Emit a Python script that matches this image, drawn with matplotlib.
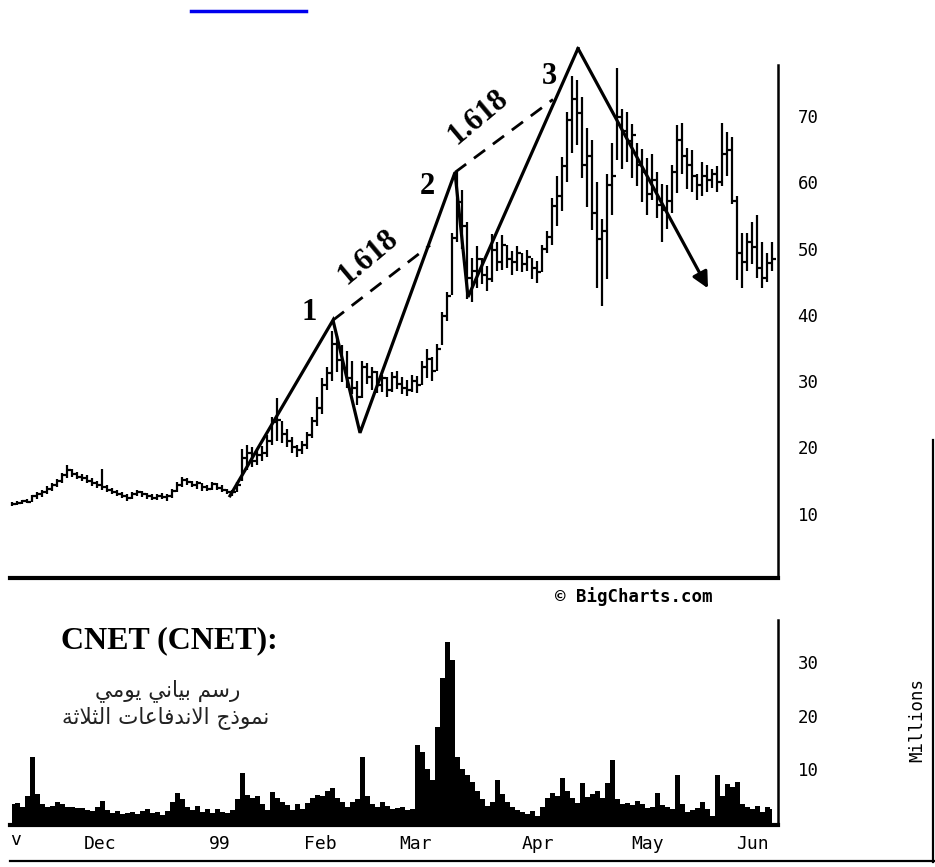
import numpy as np
import matplotlib.pyplot as plt
from matplotlib.lines import Line2D
from matplotlib.transforms import blended_transform_factory

# daily bars, one per trading day (Nov 1998 - Jun 1999)
high = [11.8, 11.9, 12.1, 12.2, 12.8, 13.3, 13.6, 14.2, 14.6, 15.2,
        16.2, 17.3, 16.8, 16.3, 16.0, 15.8, 15.4, 15.0, 16.8, 14.4,
        13.9, 13.6, 13.2, 13.0, 13.2, 13.6, 13.5, 13.1, 12.9, 13.0,
        13.1, 12.9, 13.8, 14.8, 15.6, 15.4, 15.0, 14.9, 14.7, 14.4,
        14.8, 14.6, 14.3, 13.8, 13.6, 14.8, 19.8, 20.4, 20.0, 19.6,
        20.2, 21.8, 24.6, 27.4, 24.0, 22.8, 21.6, 20.4, 21.0, 22.4,
        24.6, 27.6, 30.4, 32.2, 37.6, 36.8, 35.4, 34.6, 33.0, 30.0,
        33.0, 32.8, 32.2, 31.6, 31.0, 30.6, 31.4, 31.6, 30.6, 30.2,
        31.0, 30.8, 33.0, 34.8, 33.6, 35.6, 40.4, 43.4, 52.4, 61.6,
        58.8, 54.0, 48.6, 50.4, 48.6, 47.4, 52.2, 51.0, 52.0, 50.6,
        49.6, 50.4, 49.4, 49.8, 48.6, 48.2, 50.6, 52.6, 57.6, 61.0,
        63.8, 70.6, 76.0, 75.4, 72.8, 68.2, 66.4, 60.0, 54.4, 61.2,
        66.0, 77.2, 71.0, 70.6, 68.8, 66.0, 65.0, 63.6, 64.2, 61.6,
        59.8, 59.6, 62.6, 68.6, 69.0, 65.2, 64.8, 61.2, 63.0, 62.6,
        62.0, 62.4, 69.0, 67.6, 66.8, 58.0, 52.4, 52.4, 54.0, 55.0,
        51.0, 49.4, 51.0]
low = [11.2, 11.3, 11.5, 11.6, 11.8, 12.2, 12.5, 13.0, 13.4, 14.0,
       14.6, 15.4, 15.6, 15.2, 14.9, 14.6, 14.2, 13.9, 13.6, 13.2,
       12.9, 12.6, 12.3, 11.9, 12.2, 12.6, 12.5, 12.2, 12.0, 12.1,
       12.2, 11.9, 12.4, 13.2, 14.0, 14.3, 14.0, 13.8, 13.5, 13.4,
       13.6, 13.6, 13.2, 12.9, 12.6, 13.2, 15.0, 16.6, 17.0, 17.4,
       18.0, 18.6, 20.4, 21.0, 20.6, 20.0, 19.2, 18.5, 19.0, 19.8,
       21.4, 23.2, 25.0, 28.6, 30.0, 31.4, 29.8, 29.0, 28.0, 26.4,
       27.4, 29.6, 28.6, 28.2, 28.4, 27.6, 28.4, 28.8, 28.0, 27.8,
       28.4, 28.2, 29.4, 30.4, 30.0, 31.6, 35.4, 39.0, 43.0, 51.0,
       50.0, 42.4, 42.0, 44.0, 44.6, 43.6, 45.0, 46.6, 46.8, 47.0,
       46.0, 46.6, 46.4, 46.6, 45.4, 44.8, 46.4, 49.4, 50.6, 53.4,
       55.6, 60.0, 64.4, 65.6, 60.6, 56.2, 52.8, 44.0, 41.4, 45.4,
       55.0, 63.4, 62.0, 63.0, 60.6, 59.4, 57.0, 55.0, 57.4, 54.6,
       51.0, 53.0, 55.4, 58.4, 61.2, 59.0, 58.6, 57.4, 58.0, 58.6,
       59.2, 58.6, 59.4, 61.0, 56.8, 45.2, 44.0, 46.6, 47.6, 45.6,
       44.0, 45.0, 46.6]
close = [11.5, 11.6, 11.9, 11.8, 12.6, 12.9, 13.2, 13.8, 14.3, 14.9,
         15.8, 16.6, 16.0, 15.6, 15.4, 15.0, 14.6, 14.4, 14.1, 13.6,
         13.3, 13.0, 12.7, 12.4, 12.9, 13.2, 12.9, 12.6, 12.3, 12.7,
         12.5, 12.6, 13.5, 14.4, 15.1, 14.8, 14.4, 14.6, 14.0, 13.8,
         14.5, 13.9, 13.6, 13.2, 13.2, 14.4, 18.4, 19.2, 18.0, 18.8,
         19.2, 21.0, 23.8, 24.2, 22.0, 21.0, 20.0, 19.6, 20.4, 21.8,
         24.0, 26.0, 29.4, 31.2, 35.6, 33.2, 32.0, 30.4, 29.0, 27.6,
         32.2, 30.6, 31.4, 29.4, 30.4, 28.6, 30.6, 29.6, 29.0, 28.6,
         30.0, 29.4, 32.2, 33.4, 31.6, 34.8, 39.8, 42.8, 51.6, 57.0,
         53.4, 45.6, 46.6, 48.4, 46.0, 45.4, 49.8, 48.0, 50.6, 48.4,
         48.0, 49.4, 47.6, 48.8, 47.0, 46.4, 50.0, 51.8, 56.4, 58.0,
         62.4, 69.4, 72.6, 70.4, 62.6, 64.0, 55.4, 51.4, 52.6, 59.6,
         61.0, 69.8, 67.8, 66.2, 67.2, 62.6, 61.6, 58.2, 60.4, 56.6,
         55.8, 57.2, 61.6, 66.4, 64.0, 62.6, 61.0, 59.6, 61.0, 60.4,
         61.2, 60.0, 64.2, 64.8, 57.2, 49.4, 48.0, 51.0, 50.2, 47.0,
         45.6, 47.8, 48.4]
volume = [3.5, 3.8, 3.0, 5.0, 12.3, 5.5, 3.5, 3.0, 3.2, 4.0,
          3.6, 3.0, 3.0, 2.8, 2.8, 2.5, 2.2, 3.0, 4.2, 2.4,
          1.8, 2.2, 1.6, 1.9, 2.0, 1.6, 2.2, 2.6, 1.8, 2.0,
          1.5, 2.2, 4.0, 5.6, 4.4, 3.0, 2.4, 3.2, 2.0, 2.6,
          1.8, 2.6, 2.0, 1.8, 2.4, 4.4, 9.3, 5.2, 4.6, 5.0,
          3.6, 2.4, 5.8, 4.6, 4.0, 3.4, 2.4, 3.6, 2.6, 3.8,
          4.6, 5.2, 5.0, 6.0, 6.6, 4.6, 4.0, 3.0, 4.0, 4.4,
          12.3, 5.0, 3.6, 3.0, 4.0, 3.2, 2.6, 2.8, 3.0, 2.4,
          2.6, 14.6, 13.2, 10.0, 8.0, 18.0, 27.0, 33.8, 30.5, 12.3,
          10.0, 9.0, 7.6, 6.0, 4.4, 3.2, 4.0, 8.0, 5.4, 4.0,
          3.0, 2.4, 2.0, 1.6, 2.2, 1.4, 3.0, 4.6, 5.6, 5.0,
          8.4, 6.0, 4.6, 3.8, 7.5, 4.8, 5.4, 6.0, 4.6, 7.5,
          11.8, 4.4, 3.6, 3.8, 3.4, 4.2, 3.6, 2.8, 3.0, 5.6,
          3.4, 3.0, 2.6, 9.0, 3.6, 2.0, 2.4, 2.8, 4.0, 2.6,
          1.4, 9.0, 5.0, 7.2, 6.8, 7.6, 3.6, 3.0, 2.6, 3.2,
          2.0, 3.0, 2.6]

# three-drives pattern: turning points (day, price)
wave_days = [43.6, 64.2, 69.6, 88.6, 91.2, 113.2]
wave_prices = [12.7, 39.2, 22.2, 61.5, 42.7, 80.2]
arrow_end = (139.2, 44.0)
dash1 = ([64.2, 83.6], [39.2, 50.5])
dash2 = ([88.6, 108.2], [61.5, 72.5])

price_ticks = [10, 20, 30, 40, 50, 60, 70]
vol_ticks = [10, 20, 30]
month_pos = [17.6, 41.6, 61.6, 80.8, 105.2, 127.2, 148.0]
month_lab = ['Dec', '99', 'Feb', 'Mar', 'Apr', 'May', 'Jun']

title = 'CNET (CNET):'
sub1 = 'رسم بياني يومي'
sub2 = 'نموذج الاندفاعات الثلاثة'

# simple arabic shaping (matplotlib lays text out left to right, unshaped)
FORMS = {
    'ا': ('\ufe8d', '\ufe8e'), 'ب': ('\ufe8f', '\ufe90', '\ufe91', '\ufe92'),
    'ت': ('\ufe95', '\ufe96', '\ufe97', '\ufe98'), 'ة': ('\ufe93', '\ufe94'),
    'ث': ('\ufe99', '\ufe9a', '\ufe9b', '\ufe9c'), 'ج': ('\ufe9d', '\ufe9e', '\ufe9f', '\ufea0'),
    'د': ('\ufea9', '\ufeaa'), 'ذ': ('\ufeab', '\ufeac'), 'ر': ('\ufead', '\ufeae'),
    'س': ('\ufeb1', '\ufeb2', '\ufeb3', '\ufeb4'), 'ع': ('\ufec9', '\ufeca', '\ufecb', '\ufecc'),
    'ف': ('\ufed1', '\ufed2', '\ufed3', '\ufed4'), 'ل': ('\ufedd', '\ufede', '\ufedf', '\ufee0'),
    'م': ('\ufee1', '\ufee2', '\ufee3', '\ufee4'), 'ن': ('\ufee5', '\ufee6', '\ufee7', '\ufee8'),
    'و': ('\ufeed', '\ufeee'), 'ي': ('\ufef1', '\ufef2', '\ufef3', '\ufef4'),
}


def shape(text):
    res = []
    prev = False
    i = 0
    while i < len(text):
        c = text[i]
        if c not in FORMS:
            res.append(c)
            prev = False
            i += 1
            continue
        if c == 'ل' and i + 1 < len(text) and text[i + 1] == 'ا':
            res.append('\ufefc' if prev else '\ufefb')
            prev = False
            i += 2
            continue
        f = FORMS[c]
        nxt = text[i + 1] if i + 1 < len(text) else None
        joins = len(f) == 4 and nxt in FORMS
        if prev and joins:
            g = f[3]
        elif prev:
            g = f[1]
        elif joins:
            g = f[2]
        else:
            g = f[0]
        res.append(g)
        prev = len(f) == 4
        i += 1
    return ''.join(reversed(res))


W, H = 935, 867
fig = plt.figure(figsize=(W / 100, H / 100), dpi=100)
ax_p = fig.add_axes([10 / W, 1 - 578 / H, 768 / W, 513 / H])
ax_v = fig.add_axes([10 / W, 1 - 825 / H, 768 / W, 205 / H])

days = np.arange(len(close))
mono = 'DejaVu Sans Mono'
serif = 'Liberation Serif'

# price bars
ax_p.vlines(days, low, high, color='black', lw=1.6)
ax_p.hlines(close, days, days + 0.8, color='black', lw=1.6)

# pattern lines
ax_p.plot(wave_days, wave_prices, color='black', lw=2.3, clip_on=False,
          solid_joinstyle='miter')
ax_p.annotate('', xy=arrow_end, xytext=(wave_days[-1], wave_prices[-1]),
              arrowprops=dict(arrowstyle='-|>', color='black', lw=2.3,
                              mutation_scale=24, shrinkA=0, shrinkB=0),
              annotation_clip=False)
for d in (dash1, dash2):
    ax_p.plot(d[0], d[1], color='black', lw=2, ls=(0, (5, 3.5)), clip_on=False)

lab_kw = dict(fontfamily=serif, fontweight='bold', fontsize=22, ha='center',
              va='center', clip_on=False)
ax_p.text(59.4, 40.4, '1', **lab_kw)
ax_p.text(83.0, 59.4, '2', **lab_kw)
ax_p.text(107.4, 76.0, '3', **lab_kw)
ax_p.text(71.2, 48.7, '1.618', rotation=40, rotation_mode='anchor', **lab_kw)
ax_p.text(93.2, 69.8, '1.618', rotation=40, rotation_mode='anchor', **lab_kw)

ax_p.set_xlim(-0.4, 153.2)
ax_p.set_ylim(0.3, 77.7)
ax_p.set_yticks(price_ticks)
ax_p.set_xticks([])

# volume
ax_v.fill_between(days, volume, step='mid', color='black', lw=0)
ax_v.set_xlim(-0.4, 153.2)
ax_v.set_ylim(-0.37, 37.9)
ax_v.set_yticks(vol_ticks)
ax_v.set_xticks(month_pos)
ax_v.set_xticklabels(month_lab)
# only the tail of the November label shows at the left edge
tr = blended_transform_factory(ax_v.transData, ax_v.transAxes)
ax_v.text(0.8, -0.075, 'v', transform=tr, ha='center', va='center',
          fontfamily=mono, fontsize=13, clip_on=False)

for ax in (ax_p, ax_v):
    ax.yaxis.tick_right()
    ax.spines['left'].set_visible(False)
    ax.spines['top'].set_visible(False)
    ax.spines['bottom'].set_linewidth(3)
    ax.spines['right'].set_linewidth(1.8)
    ax.tick_params(axis='y', length=0, pad=14, labelsize=12.5)
    ax.tick_params(axis='x', length=0, pad=7, labelsize=13)
    for t in ax.get_xticklabels() + ax.get_yticklabels():
        t.set_fontfamily(mono)

fig.text(917 / W, 1 - 720 / H, 'Millions', rotation=90, ha='center',
         va='center', fontfamily=mono, fontsize=12.5)
fig.text(634 / W, 1 - 597 / H, '© BigCharts.com', ha='center', va='center',
         fontfamily=mono, fontweight='bold', fontsize=12.5)

fig.text(169 / W, 1 - 641 / H, title, ha='center', va='center',
         fontfamily=serif, fontweight='bold', fontsize=23)
fig.text(168 / W, 1 - 691 / H, shape(sub1), ha='center', va='center',
         fontfamily='DejaVu Sans', fontsize=15.5, color='#222222')
fig.text(166 / W, 1 - 718 / H, shape(sub2), ha='center', va='center',
         fontfamily='DejaVu Sans', fontsize=15.5, color='#222222')

# scan frame pieces and the clipped link underline
fig.add_artist(Line2D([10 / W, 1], [1 - 861 / H] * 2, color='black', lw=1.6))
fig.add_artist(Line2D([933 / W] * 2, [1 - 440 / H, 1 - 862 / H], color='black', lw=1.6))
fig.add_artist(Line2D([191 / W, 306 / W], [1 - 11 / H] * 2, color='#0000ee', lw=2.5))

fig.savefig('out.png', dpi=100)
